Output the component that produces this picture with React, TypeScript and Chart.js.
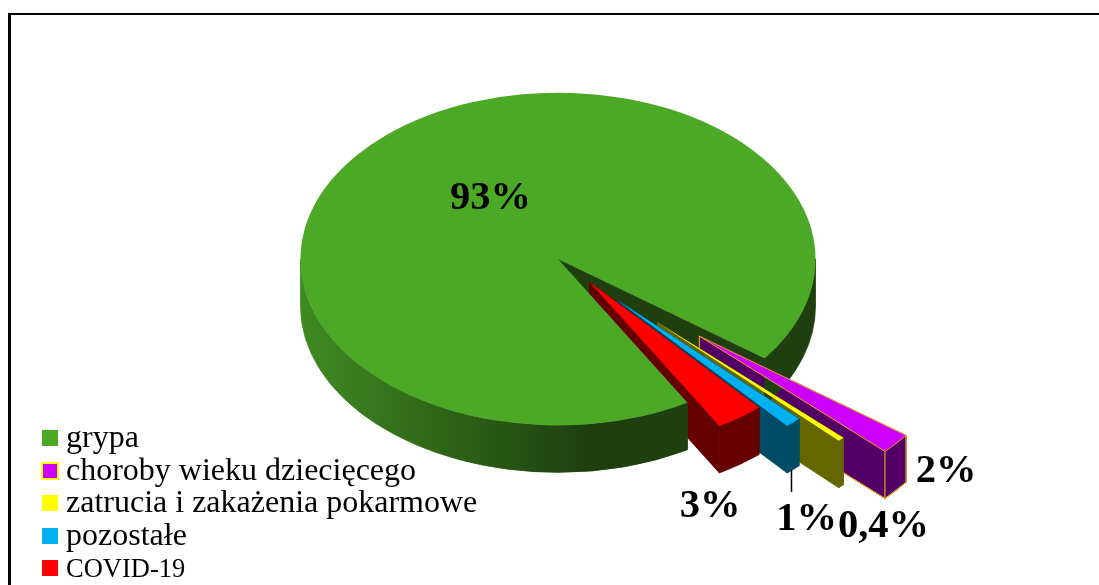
import React, { useEffect, useRef } from "react";
import { Chart, registerables } from "chart.js";

Chart.register(...registerables);

const categories = ["grypa", "choroby wieku dziecięcego", "zatrucia i zakażenia pokarmowe", "pozostałe", "COVID-19"];
const values = [93, 2, 0.4, 1, 3];
const topColors = ["#4CA926", "#CC00FF", "#FFFF00", "#00B0F0", "#FF0000"];
const wallColors = ["#1F400E", "#520066", "#666600", "#004C66", "#660000"];
const edgeColors = ["transparent", "#FFC000", "transparent", "transparent", "transparent"];
const explosion = [0, 185, 140, 88, 48];
const explosionDeg = [0, 40.2, 44.6, 47, 48.4];

const W = 1099;
const H = 585;
const RATIO = 0.646;
const RADIUS = 257.5;
const DEPTH = 47;
const CY = 259;
const SERIF = '"Liberation Serif", serif';

const labelPos = [
  [490.5, 199],
  [946, 472],
  [883.5, 527],
  [806.5, 520],
  [710, 507],
];
const legendRows = [
  { box: 430, base: 447, size: 32 },
  { box: 463, base: 480, size: 32 },
  { box: 495, base: 512, size: 32 },
  { box: 528, base: 545, size: 32 },
  { box: 560, base: 577, size: 26.5 },
];

const pct = (v: number) => `${v}%`.replace(".", ",");

function strip(ctx: any, x: number, y: number, a1: number, a2: number) {
  const ry = RADIUS * RATIO;
  ctx.beginPath();
  ctx.ellipse(x, y, RADIUS, ry, 0, a1, a2);
  ctx.ellipse(x, y + DEPTH, RADIUS, ry, 0, a2, a1, true);
  ctx.closePath();
}

function radial(ctx: any, x: number, y: number, a: number) {
  const px = x + Math.cos(a) * RADIUS;
  const py = y + Math.sin(a) * RADIUS * RATIO;
  ctx.beginPath();
  ctx.moveTo(x, y);
  ctx.lineTo(px, py);
  ctx.lineTo(px, py + DEPTH);
  ctx.lineTo(x, y + DEPTH);
  ctx.closePath();
}

function fillSealed(ctx: any, color: any) {
  ctx.fillStyle = color;
  ctx.strokeStyle = color;
  ctx.lineWidth = 0.8;
  ctx.fill();
  ctx.stroke();
}

const pie3d = {
  id: "pie3d",
  afterDatasetsUpdate(chart: any) {
    chart.getDatasetMeta(0).data.forEach((arc: any, i: number) => {
      const dir = (explosionDeg[i] * Math.PI) / 180;
      arc.x += Math.cos(dir) * explosion[i];
      arc.y += Math.sin(dir) * explosion[i];
    });
  },
  beforeDraw(chart: any) {
    const ctx = chart.ctx;
    ctx.save();
    ctx.strokeStyle = "#000";
    ctx.lineWidth = 3;
    ctx.beginPath();
    ctx.moveTo(9.5, H);
    ctx.lineTo(9.5, 13);
    ctx.stroke();
    ctx.lineWidth = 2;
    ctx.beginPath();
    ctx.moveTo(8, 14);
    ctx.lineTo(W, 14);
    ctx.stroke();
    ctx.restore();
  },
  beforeDatasetsDraw(chart: any) {
    const ctx = chart.ctx;
    const arcs = chart.getDatasetMeta(0).data;
    const screenY = (y: number) => CY + (y - CY) * RATIO;
    const ry = RADIUS * RATIO;

    ctx.save();
    // cut face of the large slice, seen through the gap
    const g = arcs[0];
    radial(ctx, g.x, screenY(g.y), g.endAngle);
    fillSealed(ctx, wallColors[0]);

    // walls of the pulled-out slices, back to front
    for (let i = 1; i < arcs.length; i++) {
      const a = arcs[i];
      const x = a.x;
      const y = screenY(a.y);
      radial(ctx, x, y, a.startAngle);
      fillSealed(ctx, wallColors[i]);
      radial(ctx, x, y, a.endAngle);
      fillSealed(ctx, wallColors[i]);
      strip(ctx, x, y, a.startAngle, a.endAngle);
      fillSealed(ctx, wallColors[i]);
      if (edgeColors[i] !== "transparent") {
        const fx = x + Math.cos(a.endAngle) * RADIUS;
        const fy = y + Math.sin(a.endAngle) * ry;
        const rx = x + Math.cos(a.startAngle) * RADIUS;
        const rY = y + Math.sin(a.startAngle) * ry;
        ctx.strokeStyle = edgeColors[i];
        ctx.lineWidth = 1;
        ctx.beginPath();
        ctx.moveTo(x, y);
        ctx.lineTo(x, y + DEPTH);
        ctx.lineTo(fx, fy + DEPTH);
        ctx.lineTo(fx, fy);
        ctx.moveTo(fx, fy + DEPTH);
        ctx.lineTo(rx, rY + DEPTH);
        ctx.lineTo(rx, rY);
        ctx.stroke();
      }
    }

    // outer wall of the large slice
    const grad = ctx.createLinearGradient(301, 0, 815, 0);
    grad.addColorStop(0, "#3F8A22");
    grad.addColorStop(0.55, "#1F400E");
    grad.addColorStop(1, "#1F400E");
    strip(ctx, g.x, screenY(g.y), g.startAngle, Math.PI);
    fillSealed(ctx, grad);
    strip(ctx, g.x, screenY(g.y), 0, g.endAngle - Math.PI * 2);
    fillSealed(ctx, grad);
    ctx.restore();

    // squash the library's own arcs into the tilted plane
    ctx.save();
    ctx.translate(0, CY);
    ctx.scale(1, RATIO);
    ctx.translate(0, -CY);
  },
  afterDatasetsDraw(chart: any) {
    chart.ctx.restore();
  },
  afterDraw(chart: any) {
    const ctx = chart.ctx;
    ctx.save();
    // leader line of the 1% label
    ctx.strokeStyle = "#000";
    ctx.lineWidth = 1.5;
    ctx.beginPath();
    ctx.moveTo(791.5, 470);
    ctx.lineTo(791.5, 492);
    ctx.stroke();

    // data labels
    ctx.fillStyle = "#000";
    ctx.font = `bold 40.5px ${SERIF}`;
    ctx.textAlign = "center";
    ctx.textBaseline = "middle";
    values.forEach((v, i) => ctx.fillText(pct(v), labelPos[i][0], labelPos[i][1]));

    // legend
    ctx.textAlign = "left";
    ctx.textBaseline = "alphabetic";
    categories.forEach((c, i) => {
      const row = legendRows[i];
      ctx.fillStyle = topColors[i];
      ctx.fillRect(42, row.box, 16, 16);
      if (edgeColors[i] !== "transparent") {
        ctx.strokeStyle = "#FFFF00";
        ctx.lineWidth = 2;
        ctx.strokeRect(42, row.box, 16, 16);
      }
      ctx.fillStyle = "#000";
      ctx.font = `${row.size}px ${SERIF}`;
      ctx.fillText(c, 66, row.base);
    });
    ctx.restore();
  },
};

export default function App() {
  const ref = useRef<HTMLCanvasElement>(null);
  useEffect(() => {
    const chart = new Chart(ref.current as HTMLCanvasElement, {
      type: "pie",
      data: {
        labels: categories,
        datasets: [
          {
            data: values,
            backgroundColor: topColors,
            borderColor: edgeColors,
            borderWidth: [0, 1, 0, 0, 0],
            clip: false,
          } as any,
        ],
      },
      options: {
        animation: false,
        responsive: false,
        rotation: 149.8,
        radius: RADIUS,
        layout: { padding: { left: 17, bottom: 67 } },
        plugins: { legend: { display: false }, tooltip: { enabled: false } },
      } as any,
      plugins: [pie3d],
    });
    return () => chart.destroy();
  }, []);
  return (
    <div style={{ position: "absolute", left: 0, top: 0, width: W, height: H, background: "#fff", overflow: "hidden" }}>
      <canvas ref={ref} width={W} height={H} style={{ display: "block" }} />
    </div>
  );
}
